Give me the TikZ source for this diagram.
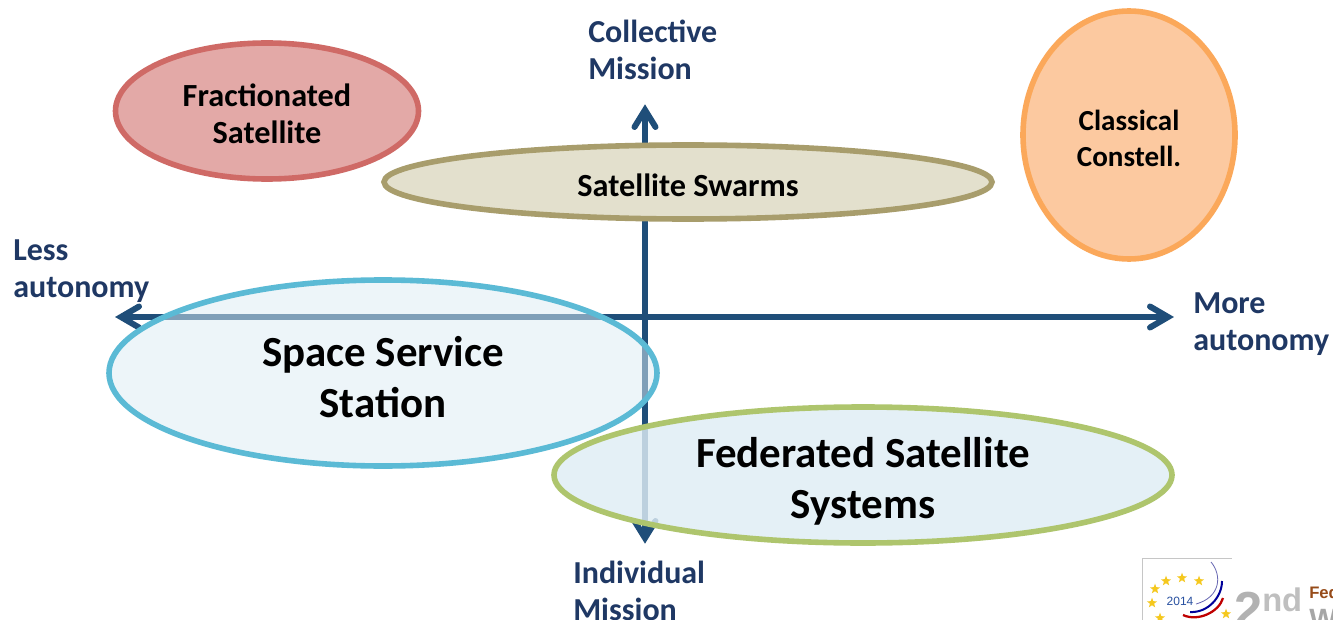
\documentclass[tikz,border=0pt]{standalone}
\usepackage{fontspec}
\setmainfont{Carlito}
\newfontfamily\logofont{Liberation Sans}
\usetikzlibrary{shapes.geometric}
\definecolor{axis}{HTML}{1F4E79}
\definecolor{lab}{HTML}{1F3864}
\tikzset{
 x=0.75pt,y=-0.75pt,
 axisline/.style={draw=axis,line width=4.3pt,line cap=butt},
 barb/.style={draw=axis,line width=4.5pt,line cap=round,line join=miter,miter limit=10},
 blob/.style={line width=4.2pt},
 etxt/.style={font=\bfseries\fontsize{24.2}{27.8}\selectfont,align=center,text=black,inner sep=0},
 btxt/.style={font=\bfseries\fontsize{32.2}{38.3}\selectfont,align=center,text=black,inner sep=0},
 lbl/.style={font=\bfseries\fontsize{24}{27.8}\selectfont,align=left,text=lab,inner sep=0,anchor=west},
 logostar/.style={star,star points=5,star point ratio=2.4,minimum size=8pt,inner sep=0,fill={rgb,255:red,245;green,200;blue,30},draw=none}
}
\begin{document}
\begin{tikzpicture}
\useasboundingbox (0,0) rectangle (1333,620);
\clip (0,0) rectangle (1333,620);
\fill[white] (0,0) rectangle (1333,620);
% axes
\coordinate (top) at (645,110);
\coordinate (bot) at (645,538);
\coordinate (lft) at (121,317);
\coordinate (rgt) at (1168,317);
\draw[axisline] (bot) -- (top);
\draw[axisline] (lft) -- (rgt);
\draw[barb] ([shift={(-10.5,17)}]top) -- (top) -- ([shift={(10.5,17)}]top);
\draw[barb] ([shift={(-10.5,-17)}]bot) -- (bot) -- ([shift={(10.5,-17)}]bot);
\draw[barb] ([shift={(18,-10.5)}]lft) -- (lft) -- ([shift={(18,10.5)}]lft);
\draw[barb] ([shift={(-18,-10.5)}]rgt) -- (rgt) -- ([shift={(-18,10.5)}]rgt);
% ellipses
\path[blob,draw={rgb,255:red,207;green,106;blue,102},fill={rgb,255:red,227;green,169;blue,167}] (267,111) ellipse [x radius=151.5,y radius=68];
\path[blob,draw={rgb,255:red,168;green,157;blue,108},fill={rgb,255:red,227;green,224;blue,205}] (688,182) ellipse [x radius=304,y radius=37];
\path[blob,draw={rgb,255:red,251;green,168;blue,90},fill={rgb,255:red,252;green,201;blue,160}] (1129,135) ellipse [x radius=106,y radius=124];
\path[fill={rgb,255:red,221;green,237;blue,245},fill opacity=.51] (383,373) ellipse [x radius=274,y radius=93];
\path[blob,draw={rgb,255:red,91;green,186;blue,213}] (383,373) ellipse [x radius=274,y radius=93];
\path[fill={rgb,255:red,223;green,237;blue,245},fill opacity=.82] (863,475) ellipse [x radius=309,y radius=68];
\path[blob,draw={rgb,255:red,174;green,197;blue,109}] (863,475) ellipse [x radius=309,y radius=68];
% texts
\node[etxt] (frac) at (267,114) {Fractionated\\Satellite};
\node[etxt] (swarm) at (688,185) {Satellite Swarms};
\node[etxt,font=\bfseries\fontsize{21.8}{27}\selectfont] (cc) at (1129,138.5) {Classical\\Constell.};
\node[btxt] (sss) at (383,377) {Space Service\\Station};
\node[btxt] (fss) at (863,481) {Federated Satellite\\Systems};
\node[lbl] (cm) at (588,50) {Collective\\Mission};
\node[lbl] (im) at (573,591) {Individual\\Mission};
\node[lbl] (la) at (13,271) {Less\\autonomy};
\node[lbl] (ma) at (1193,324) {More\\autonomy};
% logo
\draw[gray!45,line width=.6pt] (1142.5,620) -- (1142.5,558.5) -- (1232,558.5);
\node[inner sep=0,text={rgb,255:red,40;green,80;blue,160},font=\logofont\fontsize{9}{9}\selectfont] (yr) at (1180,601) {2014};
\foreach \p [count=\i] in {(1155,589),(1166,581),(1182,578),(1199,581),(1152,603),(1160,618),(1226,614)}
  \node[logostar] (s\i) at \p {};
\draw[blue!50!black!60,line width=.6pt] (1211,562) .. controls (1222,575) and (1221,597) .. (1196,604);
\draw[blue!60!black,line width=1.5pt] (1222,581) .. controls (1222,597) and (1208,613) .. (1190,612);
\draw[red!75!black,line width=1.7pt] (1223,598) .. controls (1219,612) and (1198,622) .. (1183,615);
\node[inner sep=0,anchor=base west,text=gray!60,font=\logofont\bfseries\fontsize{38}{38}\selectfont] (nd) at (1234,627) {2};
\node[inner sep=0,anchor=base west,text=gray!50,font=\logofont\bfseries\fontsize{24.5}{25}\selectfont] (nd2) at (1262,611) {nd};
\node[inner sep=0,anchor=base west,text={rgb,255:red,150;green,75;blue,25},font=\logofont\bfseries\fontsize{12.5}{13}\selectfont] (fed) at (1309,598) {Fed};
\node[inner sep=0,anchor=base west,text=gray!70,font=\logofont\bfseries\fontsize{22}{23}\selectfont] (w) at (1309,629) {W};
\end{tikzpicture}
\end{document}
